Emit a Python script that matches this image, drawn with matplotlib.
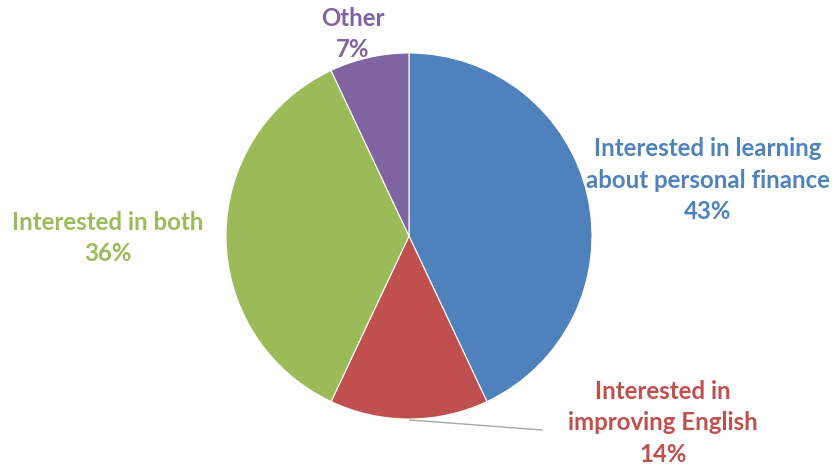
import matplotlib
matplotlib.use("Agg")
import matplotlib.pyplot as plt

categories = ["Interested in learning\nabout personal finance",
              "Interested in\nimproving English",
              "Interested in both",
              "Other"]
values = [43, 14, 36, 7]
colors = ["#4F81BD", "#C0504D", "#9BBB59", "#8064A2"]

W, H = 832, 467
fig = plt.figure(figsize=(W / 100, H / 100), dpi=100)
ax = fig.add_axes([0, 0, 1, 1])

cx, cy, r = 409, H - 236, 183
ax.pie(values, colors=colors, startangle=90, counterclock=False,
       center=(cx, cy), radius=r, frame=True,
       wedgeprops=dict(linewidth=0.8, edgecolor="white"))
ax.set_xlim(0, W)
ax.set_ylim(0, H)
ax.set_aspect("equal")
ax.axis("off")

# label centres (pixels, top-left origin)
label_pos = [(708, 180), (663, 423), (108, 238), (353, 34)]
for cat, val, col, (lx, ly) in zip(categories, values, colors, label_pos):
    ax.text(lx, H - ly, f"{cat}\n{val}%", ha="center", va="center",
            color=col, fontsize=17.3, fontweight="bold", family="Lato",
            linespacing=1.45)

# leader line for the small red slice
ax.plot([410, 542], [H - 420, H - 430], color="#A6A6A6", lw=1.0)

fig.savefig("out.png", dpi=100)
